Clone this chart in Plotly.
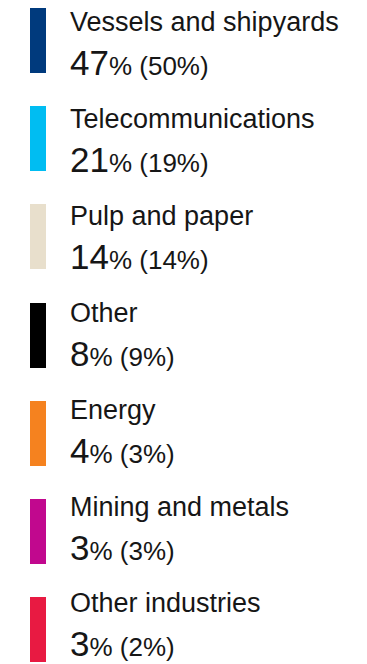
import plotly.graph_objects as go

categories = ["Vessels and shipyards", "Telecommunications", "Pulp and paper",
              "Other", "Energy", "Mining and metals", "Other industries"]
current_pct = [47, 21, 14, 8, 4, 3, 3]
previous_pct = [50, 19, 14, 9, 3, 3, 2]
colors = ["#003A7D", "#00BDF2", "#E8DFCC", "#000000", "#F5821F", "#C1088E", "#E81A42"]

W, H = 367, 664
bar_step = 98.2
text_step = 96.9
top0 = 8
bar_h = 65
bar_x = 38
bar_w = 16
text_x = 68

n = len(categories)
bar_tops = [top0 + i * bar_step for i in range(n)]
text_tops = [top0 + i * text_step for i in range(n)]

fig = go.Figure()
fig.add_trace(go.Bar(
    x=[bar_x] * n,
    y=[bar_h] * n,
    base=bar_tops,
    width=[bar_w] * n,
    marker=dict(color=colors, line=dict(width=0)),
    hoverinfo="skip",
    showlegend=False,
))

font_family = "Liberation Sans, Arial, sans-serif"
annotations = []
for i in range(n):
    annotations.append(dict(
        x=text_x, y=text_tops[i] - 3, xref="x", yref="y",
        text=categories[i], showarrow=False,
        xanchor="left", yanchor="top",
        font=dict(family=font_family, size=27, color="#161616"),
    ))
    annotations.append(dict(
        x=text_x, y=text_tops[i] + 33, xref="x", yref="y",
        text=f"<span style='font-size:35px'>{current_pct[i]}</span>% ({previous_pct[i]}%)",
        showarrow=False,
        xanchor="left", yanchor="top",
        font=dict(family=font_family, size=26, color="#161616"),
    ))

fig.update_layout(
    width=W, height=H,
    margin=dict(l=0, r=0, t=0, b=0),
    paper_bgcolor="white", plot_bgcolor="white",
    xaxis=dict(range=[0, W], visible=False, fixedrange=True),
    yaxis=dict(range=[H, 0], visible=False, fixedrange=True),
    annotations=annotations,
    bargap=0,
)

fig.write_html("out.html", config={"displayModeBar": False})
